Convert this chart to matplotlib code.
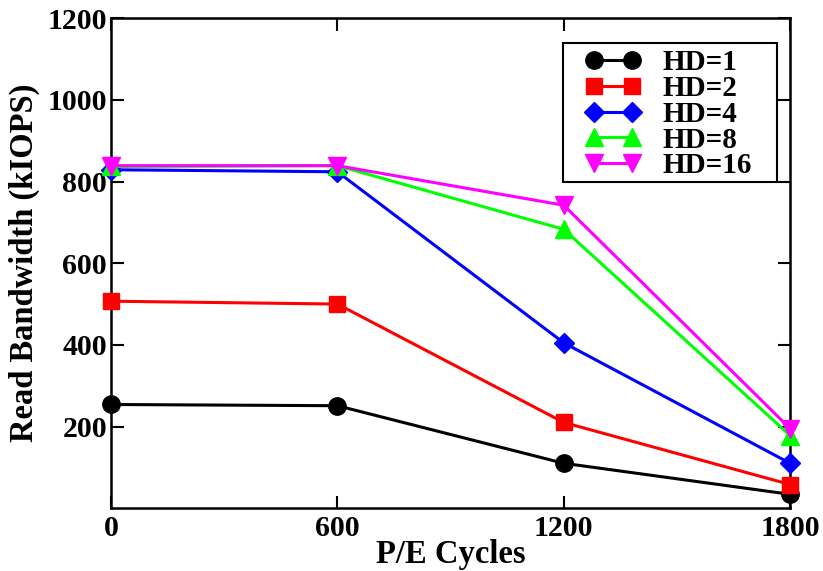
import matplotlib
matplotlib.use("Agg")
import matplotlib.pyplot as plt
from matplotlib.legend_handler import HandlerLine2D
from matplotlib.patches import Rectangle

pe_cycles = [0, 600, 1200, 1800]
hd1 = [254, 251, 110, 34]
hd2 = [507, 500, 210, 58]
hd4 = [829, 824, 405, 110]
hd8 = [837, 839, 683, 178]
hd16 = [839, 839, 742, 195]
series_labels = ["HD=1", "HD=2", "HD=4", "HD=8", "HD=16"]
x_ticks = [0, 600, 1200, 1800]
y_ticks = [200, 400, 600, 800, 1000, 1200]

plt.rcParams.update({
    "font.family": "Liberation Serif",
    "font.weight": "bold",
    "axes.labelweight": "bold",
})

fig = plt.figure(figsize=(8.23, 5.71), dpi=100)
ax = fig.add_axes([0.135, 0.11, 0.825, 0.858])

styles = [
    ("black", "o", 12.5),
    ("#ff0000", "s", 11),
    ("#0000ff", "D", 10.5),
    ("#00ff00", "^", 13),
    ("#ff00ff", "v", 13),
]
for values, label, (color, marker, ms) in zip([hd1, hd2, hd4, hd8, hd16], series_labels, styles):
    ax.plot(pe_cycles, values, color=color, marker=marker, markersize=ms, lw=2.2,
            label=label, clip_on=False, zorder=3)

ax.set_xlim(0, 1800)
ax.set_ylim(0, 1200)
ax.set_xticks(x_ticks)
ax.set_yticks(y_ticks)
ax.tick_params(axis="both", direction="in", length=9, width=1.5, labelsize=21.5,
               top=True, right=True)
ax.tick_params(axis="y", pad=3)
ax.tick_params(axis="x", pad=5)
for spine in ax.spines.values():
    spine.set_linewidth(1.8)

ax.set_xlabel("P/E Cycles", fontsize=23.5)
ax.xaxis.set_label_coords(0.5, -0.062)
ax.set_ylabel("Read Bandwidth (kIOPS)", fontsize=23.5)
ax.yaxis.set_label_coords(-0.104, 0.5)

# grace-style legend box, drawn separately so the padding matches
ax.add_patch(Rectangle((0.666, 0.665), 0.315, 0.284, transform=ax.transAxes,
                       facecolor="white", edgecolor="black", lw=1.5, zorder=5))
leg = ax.legend(loc="upper left", bbox_to_anchor=(0.666, 0.949), borderaxespad=0,
                numpoints=2, fontsize=21, handlelength=3.0, handletextpad=0.2,
                labelspacing=-0.04, borderpad=0.2, frameon=False,
                handler_map={plt.Line2D: HandlerLine2D(marker_pad=0.86)})
leg.set_zorder(6)

fig.savefig("out.png", dpi=100, facecolor="white")
